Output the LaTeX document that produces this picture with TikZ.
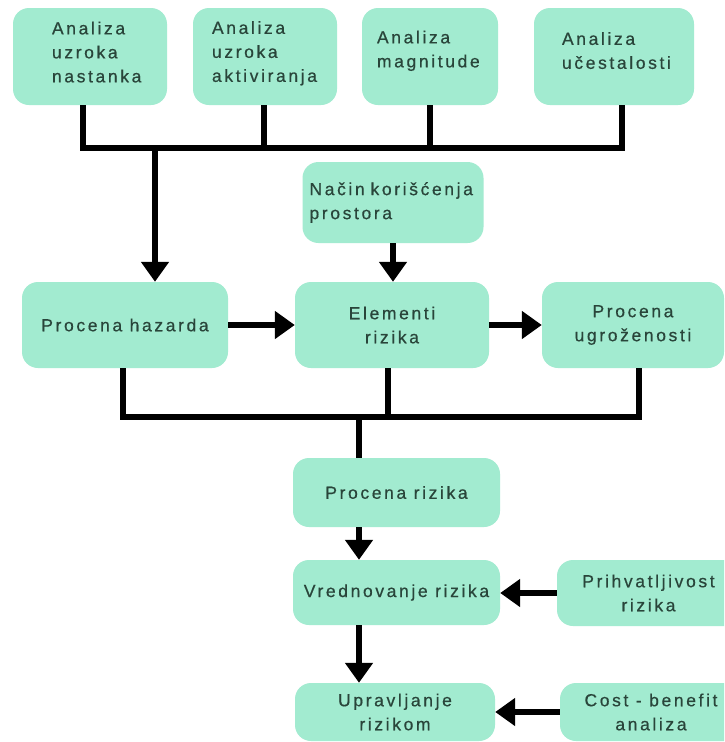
\documentclass[tikz,border=0pt]{standalone}
\usepackage{fontspec}
\setmainfont{Liberation Sans}[LetterSpace=15, FakeBold=0.6]
\usetikzlibrary{arrows.meta}
\definecolor{mint}{HTML}{A2EBD0}
\definecolor{txt}{HTML}{29453A}
\begin{document}
\begin{tikzpicture}[x=1pt,y=-1pt,
  box/.style={fill=mint, rounded corners=16pt, inner sep=0pt, text=txt,
    font=\fontsize{17.5}{24}\selectfont, align=center},
  lbox/.style={box, align=left},
  bus/.style={line width=6pt, line cap=butt, line join=miter},
  arr/.style={bus, -{Triangle[width=27pt,length=20pt]}},
]
\useasboundingbox (0,0) rectangle (724,742);
\clip (0,0) rectangle (724,742);
\fill[white] (0,0) rectangle (724,742);

% top row
\node[lbox, minimum width=154pt, minimum height=97pt, text width=76pt] (b1) at (90,56.5)
  {Analiza\\uzroka\\nastanka\rule[-9pt]{0pt}{0pt}};
\node[lbox, minimum width=144pt, minimum height=97pt, text width=106pt] (b2) at (265,56.5)
  {Analiza\\uzroka\\aktiviranja\rule[-10pt]{0pt}{0pt}};
\node[lbox, minimum width=136pt, minimum height=97pt, text width=106pt] (b3) at (430,56.5)
  {Analiza\\magnitude\rule[-15pt]{0pt}{0pt}};
\node[lbox, minimum width=160pt, minimum height=97pt, text width=104pt] (b4) at (614,56.5)
  {Analiza\\učestalosti\rule[-12pt]{0pt}{0pt}};

% land use
\node[lbox, minimum width=181pt, minimum height=81pt, text width=167pt] (nac) at (393,202.5)
  {\mbox{Način korišćenja}\\prostora};

% middle row
\node[box, minimum width=206pt, minimum height=86pt] (haz) at (125,325) {\mbox{Procena hazarda}};
\node[box, minimum width=194pt, minimum height=86pt] (elem) at (392,325) {Elementi\\rizika};
\node[box, minimum width=182pt, minimum height=86pt] (ugr) at (633,325) {Procena\\ugroženosti};

% lower column
\node[box, minimum width=207pt, minimum height=69pt] (prisk) at (396.5,492.5) {\mbox{Procena rizika}};
\node[box, minimum width=207pt, minimum height=65pt] (vred) at (396.5,592.5) {\mbox{Vrednovanje rizika}};
\node[box, minimum width=200pt, minimum height=58pt] (uprav) at (395,712) {Upravljanje\\rizikom};
\node[box, minimum width=183pt, minimum height=66pt] (prihv) at (648.5,593) {Prihvatljivost\\rizika};
\node[box, minimum width=182pt, minimum height=58pt] (cost) at (651,712) {\mbox{Cost - benefit}\\analiza};

% top bus
\coordinate (t1) at (83,148);
\coordinate (t2) at (264,148);
\coordinate (t3) at (430,148);
\coordinate (t4) at (622,148);
\coordinate (j1) at (155,148);
\draw[bus] (t1 |- b1.south) -- (t1) -- (t4) -- (t4 |- b4.south);
\draw[bus] (t2 |- b2.south) -- (t2);
\draw[bus] (t3 |- b3.south) -- (t3);
\draw[arr] (j1) -- (j1 |- haz.north);

\draw[arr] (nac.south) -- (nac.south |- elem.north);
\draw[arr] (haz.east) -- (elem.west);
\draw[arr] (elem.east) -- (ugr.west);

% middle bus
\coordinate (m1) at (123,417);
\coordinate (m2) at (388,417);
\coordinate (m3) at (639,417);
\coordinate (j2) at (359,417);
\draw[bus] (m1 |- haz.south) -- (m1) -- (m3) -- (m3 |- ugr.south);
\draw[bus] (m2 |- elem.south) -- (m2);
\draw[bus] (j2) -- (j2 |- prisk.north);

% lower arrows
\draw[arr] (j2 |- prisk.south) -- (j2 |- vred.north);
\draw[arr] (j2 |- vred.south) -- (j2 |- uprav.north);
\draw[arr] (prihv.west) -- (prihv.west -| vred.east);
\draw[arr] (cost.west) -- (cost.west -| uprav.east);
\end{tikzpicture}
\end{document}
